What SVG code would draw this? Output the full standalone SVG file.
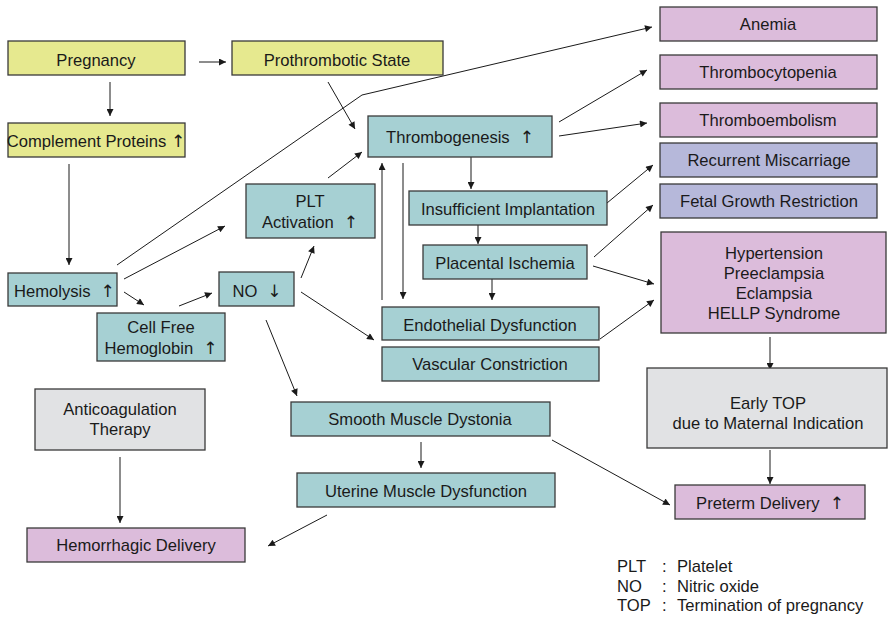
<svg xmlns="http://www.w3.org/2000/svg" width="888" height="617" viewBox="0 0 888 617">
  <style>
    .box { stroke: #3a3a3a; stroke-width: 1.3; }
    .y { fill: #e6e98f; }
    .t { fill: #a6d0d3; }
    .p { fill: #dcbcdb; }
    .v { fill: #b6b8da; }
    .g { fill: #e1e2e4; }
    text { font-family: "Liberation Sans", Arial, sans-serif; font-size: 16.6px; fill: #1a1a1a; }
    .c { text-anchor: middle; }
    .ar { font-family: "DejaVu Sans", sans-serif; font-size: 17px; fill: #1a1a1a; }
    .edge { stroke: #1a1a1a; stroke-width: 1; fill: none; marker-end: url(#ah); }
  </style>
  <defs>
    <marker id="ah" viewBox="0 0 10 10" refX="10" refY="5" markerWidth="9" markerHeight="7" markerUnits="userSpaceOnUse" orient="auto">
      <path d="M0,0 L10,5 L0,10 z" fill="#1a1a1a"/>
    </marker>
  </defs>
  <rect width="888" height="617" fill="#ffffff"/>

  <!-- connectors -->
  <g id="connectors">
    <line class="edge" x1="199" y1="62" x2="226" y2="62"/>
    <line class="edge" x1="110" y1="82" x2="110" y2="116"/>
    <line class="edge" x1="69" y1="164" x2="69" y2="265"/>
    <polyline class="edge" points="117,265 362,95 652,27"/>
    <line class="edge" x1="124" y1="279" x2="225" y2="226"/>
    <line class="edge" x1="124" y1="292" x2="144" y2="305"/>
    <line class="edge" x1="179" y1="306" x2="212" y2="293"/>
    <line class="edge" x1="301" y1="278" x2="314" y2="246"/>
    <line class="edge" x1="301" y1="292" x2="374" y2="340"/>
    <line class="edge" x1="266" y1="320" x2="297" y2="396"/>
    <line class="edge" x1="328" y1="82" x2="355" y2="129"/>
    <line class="edge" x1="328" y1="178" x2="362" y2="152"/>
    <line class="edge" x1="382" y1="300" x2="382" y2="163"/>
    <line class="edge" x1="403" y1="163" x2="403" y2="299"/>
    <line class="edge" x1="471" y1="157" x2="471" y2="189"/>
    <line class="edge" x1="478" y1="225" x2="478" y2="244"/>
    <line class="edge" x1="492" y1="279" x2="492" y2="300"/>
    <line class="edge" x1="559" y1="122" x2="647" y2="70"/>
    <line class="edge" x1="559" y1="136" x2="647" y2="123"/>
    <line class="edge" x1="607" y1="203" x2="653" y2="165"/>
    <line class="edge" x1="594" y1="257" x2="653" y2="205"/>
    <line class="edge" x1="593" y1="266" x2="654" y2="284"/>
    <line class="edge" x1="600" y1="339" x2="654" y2="300"/>
    <line class="edge" x1="770" y1="337" x2="770" y2="370"/>
    <line class="edge" x1="770" y1="450" x2="770" y2="484"/>
    <line class="edge" x1="552" y1="440" x2="670" y2="505"/>
    <line class="edge" x1="421" y1="442" x2="421" y2="468"/>
    <line class="edge" x1="327" y1="515" x2="268" y2="546"/>
    <line class="edge" x1="120" y1="457" x2="120" y2="523"/>
  </g>

  <!-- yellow: origin nodes -->
  <g id="pregnancy">
    <rect class="box y" x="8" y="41" width="177" height="34"/>
    <text class="c" x="96" y="66">Pregnancy</text>
  </g>
  <g id="prothrombotic">
    <rect class="box y" x="232" y="41" width="211" height="34"/>
    <text class="c" x="337" y="66">Prothrombotic State</text>
  </g>
  <g id="complement">
    <rect class="box y" x="8" y="123" width="177" height="34"/>
    <text class="c" x="96" y="147">Complement Proteins <tspan class="ar">↑</tspan></text>
  </g>

  <!-- teal: mechanisms -->
  <g id="hemolysis">
    <rect class="box t" x="8" y="273" width="109" height="33"/>
    <text x="14" y="297">Hemolysis<tspan class="ar" dx="10">↑</tspan></text>
  </g>
  <g id="cellfree">
    <rect class="box t" x="97" y="313" width="128" height="48"/>
    <text class="c" x="161" y="333">Cell Free</text>
    <text class="c" x="161" y="354">Hemoglobin<tspan class="ar" dx="10">↑</tspan></text>
  </g>
  <g id="no">
    <rect class="box t" x="219" y="272" width="75" height="34"/>
    <text class="c" x="257" y="297">NO<tspan class="ar" dx="10">↓</tspan></text>
  </g>
  <g id="plt">
    <rect class="box t" x="246" y="184" width="129" height="54"/>
    <text class="c" x="310" y="207">PLT</text>
    <text class="c" x="310" y="228">Activation<tspan class="ar" dx="10">↑</tspan></text>
  </g>
  <g id="thrombogenesis">
    <rect class="box t" x="368" y="116" width="184" height="41"/>
    <text class="c" x="460" y="143">Thrombogenesis<tspan class="ar" dx="10">↑</tspan></text>
  </g>
  <g id="implantation">
    <rect class="box t" x="409" y="191" width="198" height="34"/>
    <text class="c" x="508" y="215">Insufficient Implantation</text>
  </g>
  <g id="ischemia">
    <rect class="box t" x="423" y="245" width="164" height="34"/>
    <text class="c" x="505" y="269">Placental Ischemia</text>
  </g>
  <g id="endothelial">
    <rect class="box t" x="382" y="307" width="217" height="33"/>
    <text class="c" x="490" y="331">Endothelial Dysfunction</text>
  </g>
  <g id="vascular">
    <rect class="box t" x="382" y="347" width="217" height="34"/>
    <text class="c" x="490" y="370">Vascular Constriction</text>
  </g>
  <g id="smoothmuscle">
    <rect class="box t" x="291" y="402" width="259" height="34"/>
    <text class="c" x="420" y="425">Smooth Muscle Dystonia</text>
  </g>
  <g id="uterine">
    <rect class="box t" x="297" y="473" width="258" height="34"/>
    <text class="c" x="426" y="497">Uterine Muscle Dysfunction</text>
  </g>

  <!-- outcomes -->
  <g id="anemia">
    <rect class="box p" x="660" y="7" width="217" height="34"/>
    <text class="c" x="768" y="30">Anemia</text>
  </g>
  <g id="thrombocytopenia">
    <rect class="box p" x="660" y="55" width="217" height="34"/>
    <text class="c" x="768" y="78">Thrombocytopenia</text>
  </g>
  <g id="thromboembolism">
    <rect class="box p" x="660" y="103" width="217" height="34"/>
    <text class="c" x="768" y="126">Thromboembolism</text>
  </g>
  <g id="miscarriage">
    <rect class="box v" x="660" y="143" width="217" height="34"/>
    <text class="c" x="769" y="166">Recurrent Miscarriage</text>
  </g>
  <g id="fgr">
    <rect class="box v" x="660" y="184" width="217" height="34"/>
    <text class="c" x="769" y="207">Fetal Growth Restriction</text>
  </g>
  <g id="hypertension">
    <rect class="box p" x="661" y="232" width="225" height="101"/>
    <text class="c" x="774" y="259">Hypertension</text>
    <text class="c" x="774" y="279">Preeclampsia</text>
    <text class="c" x="774" y="299">Eclampsia</text>
    <text class="c" x="774" y="319">HELLP Syndrome</text>
  </g>
  <g id="earlytop">
    <rect class="box g" x="647" y="368" width="240" height="80"/>
    <text class="c" x="768" y="409">Early TOP</text>
    <text class="c" x="768" y="429">due to Maternal Indication</text>
  </g>
  <g id="preterm">
    <rect class="box p" x="675" y="485" width="190" height="34"/>
    <text class="c" x="770" y="509">Preterm Delivery<tspan class="ar" dx="10">↑</tspan></text>
  </g>
  <g id="anticoagulation">
    <rect class="box g" x="35" y="389" width="170" height="61"/>
    <text class="c" x="120" y="415">Anticoagulation</text>
    <text class="c" x="120" y="435">Therapy</text>
  </g>
  <g id="hemorrhagic">
    <rect class="box p" x="27" y="528" width="218" height="34"/>
    <text class="c" x="136" y="551">Hemorrhagic Delivery</text>
  </g>

  <!-- abbreviations -->
  <g id="legend">
    <text x="617" y="572">PLT</text>
    <text x="662" y="572">:</text>
    <text x="677" y="572">Platelet</text>
    <text x="617" y="592">NO</text>
    <text x="662" y="592">:</text>
    <text x="677" y="592">Nitric oxide</text>
    <text x="617" y="611">TOP</text>
    <text x="662" y="611">:</text>
    <text x="677" y="611">Termination of pregnancy</text>
  </g>
</svg>
